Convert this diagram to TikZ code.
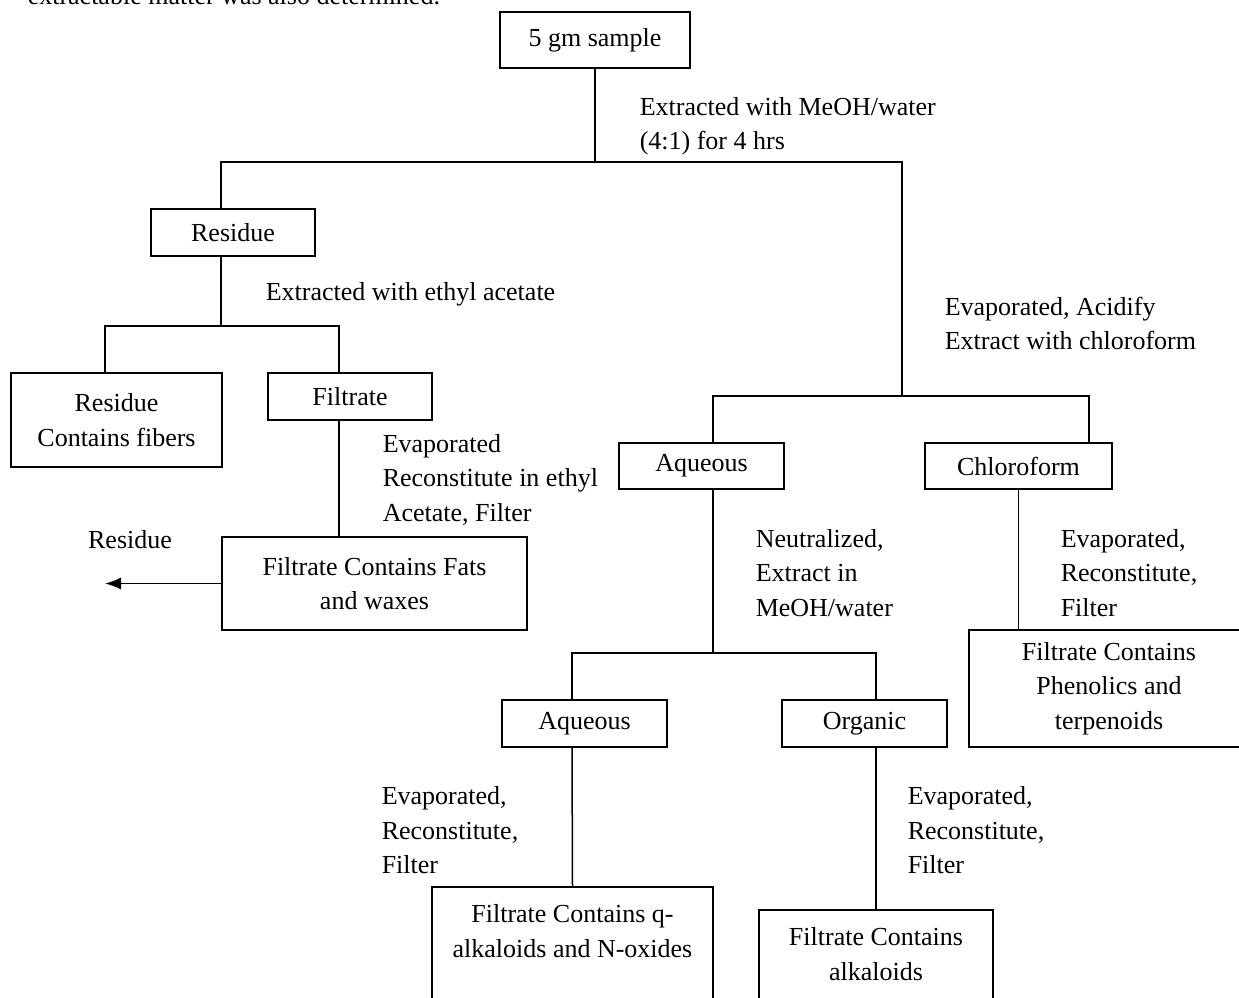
\documentclass[tikz,border=0pt]{standalone}
\usepackage{fontspec}
\setmainfont{Liberation Serif}
\usetikzlibrary{arrows.meta}

\begin{document}
\begin{tikzpicture}[x=1pt,y=-1pt,>={Latex[length=16pt,width=12pt]},line width=1.5pt,
  every node/.style={font=\fontsize{26}{34.5}\selectfont},
  box/.style={draw,align=center,inner sep=0pt},
  note/.style={anchor=west,align=left,inner sep=0pt}]
\useasboundingbox (0,0) rectangle (1239,998);
\clip (0,0) rectangle (1239,998);
\node[anchor=base west,inner sep=0pt] (intro) at (27,5) {extractable matter was also determined.};
% boxes
\node[box,minimum width=190,minimum height=56] (S) at (595,40) {5 gm sample};
\node[box,minimum width=164,minimum height=47] (R1) at (233,232.5) {Residue};
\node[box,minimum width=211,minimum height=94] (R2) at (116.5,420) {Residue\\Contains fibers};
\node[box,minimum width=164,minimum height=47] (F1) at (350,396.5) {Filtrate};
\node[box,minimum width=305,minimum height=93] (F2) at (374.5,583.5) {Filtrate Contains Fats\\and waxes};
\node[box,minimum width=165,minimum height=46] (A1) at (701.5,466) {Aqueous};
\node[box,minimum width=187,minimum height=46] (C1) at (1018.5,466) {Chloroform};
\node[box,minimum width=280,minimum height=117] (C2) at (1109,688.5) {Filtrate Contains\\Phenolics and\\terpenoids};
\node[box,minimum width=165,minimum height=47] (A2) at (584.5,723.5) {Aqueous};
\node[box,minimum width=165,minimum height=47] (O1) at (864.5,723.5) {Organic};
\node[box,minimum width=281,minimum height=122] (A3) at (572.5,948) {Filtrate Contains q-\\alkaloids and N-oxides\\\mbox{}};
\node[box,minimum width=234,minimum height=122] (O2) at (876,971) {Filtrate Contains\\alkaloids\\\mbox{}};
% step labels
\node[note] (n1) at (639,126) {Extracted with MeOH/water\\(4:1) for 4 hrs};
\node[note] (n2) at (265,294) {Extracted with ethyl acetate};
\node[note] (n3) at (944,323.5) {Evaporated, Acidify\\Extract with chloroform};
\node[note] (n4) at (382,479.5) {Evaporated\\Reconstitute in ethyl\\Acetate, Filter};
\node[note] (n5) at (755,573) {Neutralized,\\Extract in\\MeOH/water};
\node[note] (n6) at (1060,573) {Evaporated,\\Reconstitute,\\Filter};
\node[note] (n7) at (381,830.5) {Evaporated,\\Reconstitute,\\Filter};
\node[note] (n8) at (907,830.5) {Evaporated,\\Reconstitute,\\Filter};
\node[inner sep=0pt] (r3) at (130,540) {Residue};
% junctions
\coordinate (j1) at (595,162);
\coordinate (j2) at (902,396);
\coordinate (j3) at (221,326);
\coordinate (j4) at (713,653);
\coordinate (out) at (105,583.5);
% lines
\draw (S) -- (j1);
\draw ([xshift=-12]R1.north) |- (j1) -| (j2);
\draw ([xshift=11.5]A1.north) |- (j2) -| ([xshift=70.5]C1.north);
\draw ([xshift=-12]R1.south) -- (j3);
\draw ([xshift=-11.5]R2.north) |- (j3) -| ([xshift=-11]F1.north);
\draw ([xshift=-11]F1.south) -- ([xshift=-35.5]F2.north);
\draw[->] (F2.west) -- (out);
\draw ([xshift=11.5]A1.south) -- (j4);
\draw ([xshift=-12.5]A2.north) |- (j4) -| ([xshift=11.5]O1.north);
\draw ([xshift=-12.5]A2.south) -- ([xshift=-12]A2.south |- A3.north);
\draw ([xshift=11.5]O1.south) -- (O2.north);
\draw (C1.south) -- (C1.south |- C2.north);
\end{tikzpicture}
\end{document}
